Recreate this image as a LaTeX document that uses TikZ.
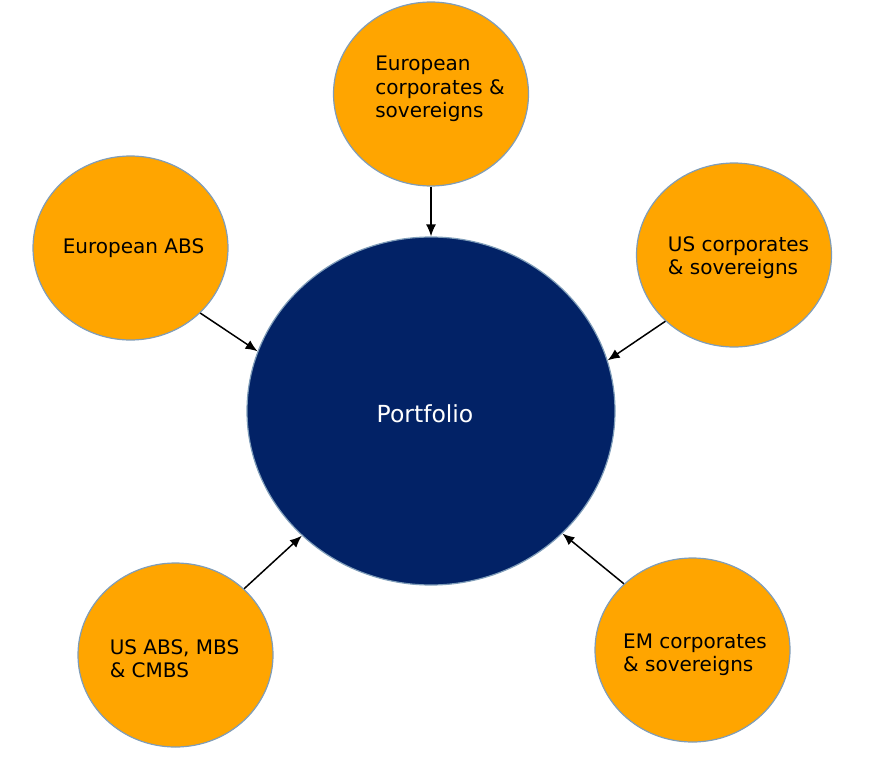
\documentclass[tikz,border=0pt]{standalone}
\usepackage{fontspec}
\setmainfont{DejaVu Sans}
\usetikzlibrary{shapes.geometric, arrows.meta}

\definecolor{bubble}{HTML}{FFA500}
\definecolor{navy}{HTML}{022266}
\definecolor{rim}{HTML}{7F9DB9}

\begin{document}
\begin{tikzpicture}[x=1pt, y=-1pt,
        bub/.style={ellipse, draw=rim, fill=bubble, line width=1.2pt,
                    minimum width=195pt, minimum height=184pt, inner sep=0pt},
        lbl/.style={align=left, font=\fontsize{20}{23.5}\selectfont},
        hub/.style={ellipse, draw=rim, fill=navy, line width=1.2pt,
                    minimum width=368pt, minimum height=348pt, inner sep=0pt},
        feed/.style={black, -{Latex[length=12pt, width=10pt]}, line width=1.5pt}]
                \useasboundingbox (0, 0) rectangle (873, 776);
                \node [hub] (port) at (431, 411) {};
                \node [white, font=\fontsize{23.5}{28}\selectfont] (portl) at (425, 414) {Portfolio};
                \node [bub, label={[lbl, xshift=9pt, yshift=5pt]center:European\\corporates \&\\sovereigns}] (euc) at (431, 94) {};
                \node [bub, label={[lbl, xshift=3pt]center:European ABS}] (euabs) at (130.5, 248) {};
                \node [bub, label={[lbl, xshift=4.5pt, yshift=-2.5pt]center:US corporates\\\& sovereigns}] (usc) at (734, 255) {};
                \node [bub, label={[lbl, xshift=-1pt, yshift=-3.5pt]center:US ABS, MBS\\\& CMBS}] (usabs) at (175.5, 655) {};
                \node [bub, label={[lbl, xshift=2.5pt, yshift=-5pt]center:EM corporates\\\& sovereigns}] (emc) at (692.5, 650) {};
                \draw [feed] (euc.-90) -- (port.90);
                \draw [feed] (euabs.-43.5) -- (port.161.3);
                \draw [feed] (usc.-136.7) -- (port.16.8);
                \draw [feed] (usabs.44) -- (port.-136.6);
                \draw [feed] (emc.136.5) -- (port.-43.6);
            \end{tikzpicture}
\end{document}
